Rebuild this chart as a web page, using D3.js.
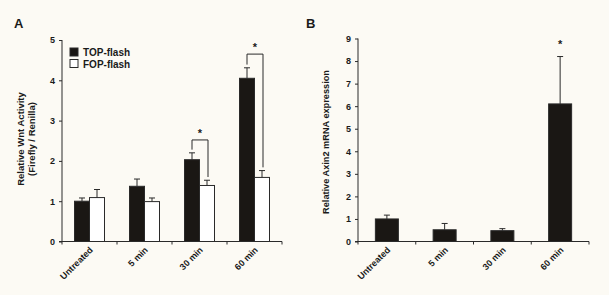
<!DOCTYPE html>
<html lang="en">
<head>
<meta charset="UTF-8">
<title>Wnt activity</title>
<script src="https://d3js.org/d3.v7.min.js"></script>
<style>
  body { margin: 0; background: #fcfaf4; }
  text { font-family: "Liberation Sans", Arial, sans-serif; fill: #1a1a1a; }
</style>
</head>
<body>
<div id="chart"></div>
<script>
// categories and values
const groups = ["Untreated", "5 min", "30 min", "60 min"];
const topFlash = [1.0, 1.37, 2.03, 4.05];
const topErr = [0.08, 0.18, 0.17, 0.26];
const fopFlash = [1.09, 0.99, 1.39, 1.59];
const fopErr = [0.2, 0.09, 0.13, 0.17];
const axin2 = [1.0, 0.52, 0.48, 6.1];
const axin2Err = [0.17, 0.28, 0.09, 2.1];
const ticksA = [0, 1, 2, 3, 4, 5];
const ticksB = [0, 1, 2, 3, 4, 5, 6, 7, 8, 9];

const width = 609, height = 295;
const ink = "#2a2a2a";

const svg = d3.select("#chart").append("svg")
    .attr("width", width)
    .attr("height", height);

svg.append("rect").attr("width", width).attr("height", height).attr("fill", "#fcfaf4");

// helper to draw the axes for one panel
function drawAxes(g, x, y, ticks) {
    const r = x.range();
    g.append("g")
        .attr("transform", `translate(${r[0]},0)`)
        .call(d3.axisLeft(y).tickValues(ticks).tickSize(3).tickFormat(d3.format("d")))
        .call(a => a.select(".domain").attr("d", `M0,${y(0)}V${y(ticks[ticks.length - 1])}`))
        .call(a => a.selectAll("line,path").attr("stroke", ink))
        .call(a => a.selectAll("text").attr("font-size", 9).attr("font-weight", "bold").attr("dx", -1));

    const xa = g.append("g").attr("transform", `translate(0,${y(0)})`);
    xa.append("line").attr("x1", r[0] - 3).attr("x2", r[1]).attr("stroke", ink);
    const bounds = [r[0]].concat(x.domain().map(d => x(d) + x.step()));
    xa.selectAll(".tk").data(bounds).join("line")
        .attr("x1", d => d).attr("x2", d => d).attr("y1", 0).attr("y2", 3).attr("stroke", ink);
    xa.selectAll(".lab").data(x.domain()).join("text")
        .attr("transform", d => `translate(${x(d) + x.bandwidth() / 2 + 4},${9}) rotate(-45)`)
        .attr("text-anchor", "end")
        .attr("font-size", 9)
        .attr("font-weight", "bold")
        .text(d => d);
}

function errBar(g, cx, yTop, yErr, cap) {
    g.append("line").attr("x1", cx).attr("x2", cx).attr("y1", yTop).attr("y2", yErr).attr("stroke", ink);
    g.append("line").attr("x1", cx - cap).attr("x2", cx + cap).attr("y1", yErr).attr("y2", yErr).attr("stroke", ink);
}

// ---------- Panel A ----------
const gA = svg.append("g");
const xA = d3.scaleBand().domain(groups).range([62, 282]).paddingInner(0).paddingOuter(0);
const yA = d3.scaleLinear().domain([0, 5]).range([241.5, 40]);
const barW = 15;

drawAxes(gA, xA, yA, ticksA);

groups.forEach((grp, i) => {
    const c = xA(grp) + xA.bandwidth() / 2;
    gA.append("rect")
        .attr("x", c - barW).attr("y", yA(topFlash[i]))
        .attr("width", barW).attr("height", yA(0) - yA(topFlash[i]))
        .attr("fill", "#1a1714").attr("stroke", ink);
    errBar(gA, c - barW / 2, yA(topFlash[i]), yA(topFlash[i] + topErr[i]), 3);
    gA.append("rect")
        .attr("x", c).attr("y", yA(fopFlash[i]))
        .attr("width", barW).attr("height", yA(0) - yA(fopFlash[i]))
        .attr("fill", "#ffffff").attr("stroke", ink);
    errBar(gA, c + barW / 2, yA(fopFlash[i]), yA(fopFlash[i] + fopErr[i]), 3);
});

// significance brackets (30 min and 60 min)
[[2, 2.52], [3, 4.65]].forEach(([i, level]) => {
    const grp = groups[i];
    const c = xA(grp) + xA.bandwidth() / 2;
    const l = c - barW / 2, r = c + barW / 2 + 1;
    const yl = yA(topFlash[i] + topErr[i] + 0.08);
    const yr = yA(fopFlash[i] + fopErr[i] + 0.08);
    const yt = yA(level);
    gA.append("path")
        .attr("d", `M${l},${yl}V${yt}H${r}V${yr}`)
        .attr("fill", "none").attr("stroke", ink);
    gA.append("text").attr("x", (l + r) / 2).attr("y", yt - 3)
        .attr("text-anchor", "middle").attr("font-size", 11).attr("font-weight", "bold").text("*");
});

// legend
const legend = gA.append("g").attr("transform", "translate(70,48)");
[["TOP-flash", "#1a1714"], ["FOP-flash", "#ffffff"]].forEach(([name, col], i) => {
    legend.append("rect").attr("x", 0).attr("y", i * 11.5).attr("width", 8).attr("height", 8)
        .attr("fill", col).attr("stroke", ink);
    legend.append("text").attr("x", 13).attr("y", i * 11.5 + 8)
        .attr("font-size", 10).attr("font-weight", "bold").text(name);
});

gA.append("text")
    .attr("transform", "translate(24,139) rotate(-90)")
    .attr("text-anchor", "middle").attr("font-size", 9.5).attr("font-weight", "bold")
    .text("Relative Wnt Activity");
gA.append("text")
    .attr("transform", "translate(34.5,139) rotate(-90)")
    .attr("text-anchor", "middle").attr("font-size", 9.5).attr("font-weight", "bold")
    .text("(Firefly / Renilla)");

svg.append("text").attr("x", 14).attr("y", 28).attr("font-size", 13).attr("font-weight", "bold").text("A");

// ---------- Panel B ----------
const gB = svg.append("g");
const xB = d3.scaleBand().domain(groups).range([358, 589]).paddingInner(0).paddingOuter(0);
const yB = d3.scaleLinear().domain([0, 9]).range([241.5, 38.5]);
const barWB = 23;

drawAxes(gB, xB, yB, ticksB);

groups.forEach((grp, i) => {
    const c = xB(grp) + xB.bandwidth() / 2;
    gB.append("rect")
        .attr("x", c - barWB / 2).attr("y", yB(axin2[i]))
        .attr("width", barWB).attr("height", yB(0) - yB(axin2[i]))
        .attr("fill", "#1a1714").attr("stroke", ink);
    errBar(gB, c, yB(axin2[i]), yB(axin2[i] + axin2Err[i]), 3);
});

gB.append("text")
    .attr("x", xB("60 min") + xB.bandwidth() / 2)
    .attr("y", yB(axin2[3] + axin2Err[3]) - 9)
    .attr("text-anchor", "middle").attr("font-size", 11).attr("font-weight", "bold").text("*");

gB.append("text")
    .attr("transform", `translate(329,142) rotate(-90)`)
    .attr("text-anchor", "middle").attr("font-size", 9.2).attr("font-weight", "bold")
    .text("Relative Axin2 mRNA expression");

svg.append("text").attr("x", 306).attr("y", 28).attr("font-size", 13).attr("font-weight", "bold").text("B");
</script>
</body>
</html>
